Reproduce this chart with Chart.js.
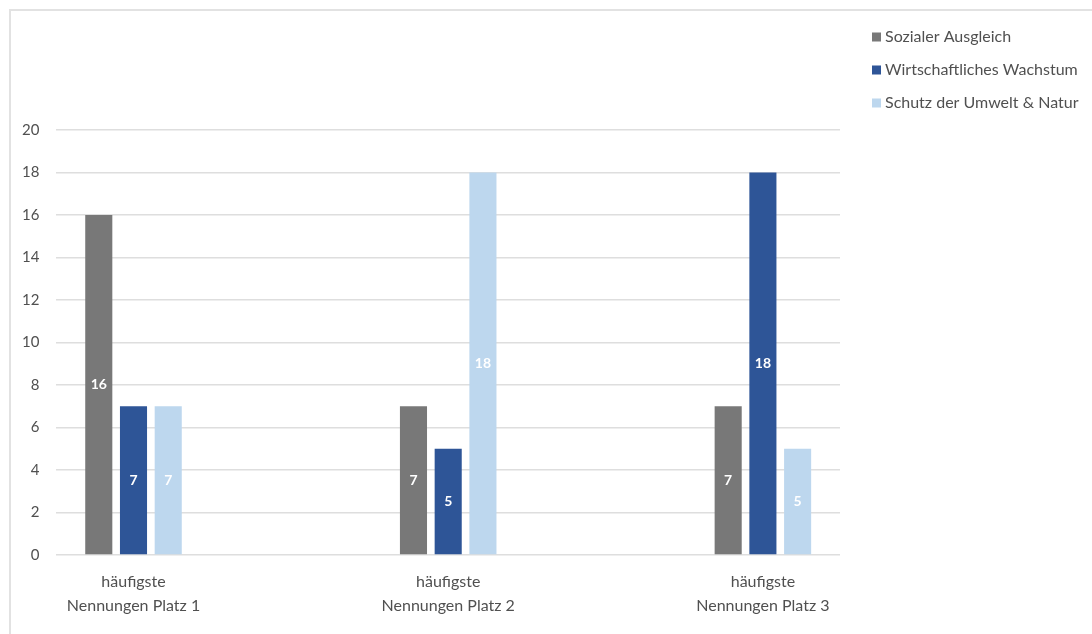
<!DOCTYPE html>
<html>
<head>
<meta charset="utf-8">
<script src="https://cdn.jsdelivr.net/npm/chart.js@4"></script>
<style>
  body { margin: 0; background: #fff; }
  .frame { position: absolute; left: 9px; top: 9px; width: 1100px; height: 640px; border-left: 2px solid #e2e2e2; border-top: 2px solid #e2e2e2; }
  .wrap { position: absolute; left: 0; top: 0; width: 1092px; height: 634px; }
</style>
</head>
<body>
<div class="frame"></div>
<div class="wrap"><canvas id="myChart"></canvas></div>
<script>
// categories and values
const kategorien = [['häufigste', 'Nennungen Platz 1'], ['häufigste', 'Nennungen Platz 2'], ['häufigste', 'Nennungen Platz 3']]
const sozial = [16, 7, 7]
const wirtschaft = [7, 5, 18]
const umwelt = [7, 18, 5]
const yTicks = [0, 2, 4, 6, 8, 10, 12, 14, 16, 18, 20]

const fontName = 'Lato'
const textColor = '#505050'

// white value labels in the middle of each bar
const barLabels = {
  id: 'barLabels',
  afterDatasetsDraw(chart) {
    const c = chart.ctx
    c.save()
    c.font = 'bold 14px ' + fontName
    c.fillStyle = '#ffffff'
    c.textAlign = 'center'
    c.textBaseline = 'middle'
    chart.data.datasets.forEach((ds, i) => {
      chart.getDatasetMeta(i).data.forEach((bar, j) => {
        c.fillText(ds.data[j].y, bar.x, (bar.y + bar.base) / 2)
      })
    })
    c.restore()
  }
}

// legend in the top right corner
const sideLegend = {
  id: 'sideLegend',
  afterDraw(chart) {
    const c = chart.ctx
    c.save()
    c.font = '16px ' + fontName
    c.textBaseline = 'middle'
    chart.data.datasets.forEach((ds, i) => {
      const y = 37 + i * 33
      c.fillStyle = ds.backgroundColor
      c.fillRect(872, y - 4.5, 9, 9)
      c.fillStyle = textColor
      c.fillText(ds.label, 885, y)
    })
    c.restore()
  }
}

const ctx = document.getElementById('myChart').getContext('2d')

let data = {
  datasets: [{
    label: 'Sozialer Ausgleich',
    data: sozial.map((v, i) => ({ x: i, y: v })),
    backgroundColor: '#787878'
  }, {
    label: 'Wirtschaftliches Wachstum',
    data: wirtschaft.map((v, i) => ({ x: i, y: v })),
    backgroundColor: '#2e5597'
  }, {
    label: 'Schutz der Umwelt & Natur',
    data: umwelt.map((v, i) => ({ x: i, y: v })),
    backgroundColor: '#bdd7ee'
  }]
}

let options = {
  responsive: false,
  animation: false,
  categoryPercentage: 0.331,
  barPercentage: 0.78,
  layout: {
    padding: { left: 5, right: 252, top: 130, bottom: 9 }
  },
  plugins: {
    legend: { display: false },
    tooltip: { enabled: false }
  },
  scales: {
    x: {
      type: 'linear',
      offset: false,
      min: -0.245,
      max: 2.245,
      afterBuildTicks: (axis) => {
        axis.ticks = kategorien.map((k, i) => ({ value: i }))
      },
      grid: { display: false },
      border: { display: false },
      ticks: {
        padding: 7,
        maxRotation: 0,
        autoSkip: false,
        color: textColor,
        font: { family: fontName, size: 16, lineHeight: 1.5 },
        callback: (v) => kategorien[v]
      }
    },
    y: {
      min: 0,
      max: 20,
      afterBuildTicks: (axis) => {
        axis.ticks = yTicks.map(v => ({ value: v }))
      },
      grid: { color: '#dedede', lineWidth: 1.5, drawTicks: false },
      border: { display: false },
      ticks: {
        padding: 17,
        color: textColor,
        font: { family: fontName, size: 15 }
      }
    }
  }
}

const canvas = document.getElementById('myChart')
canvas.width = 1092
canvas.height = 634

let myChart = new Chart(ctx, {
  type: 'bar',
  data: data,
  options: options,
  plugins: [barLabels, sideLegend]
})
</script>
</body>
</html>
